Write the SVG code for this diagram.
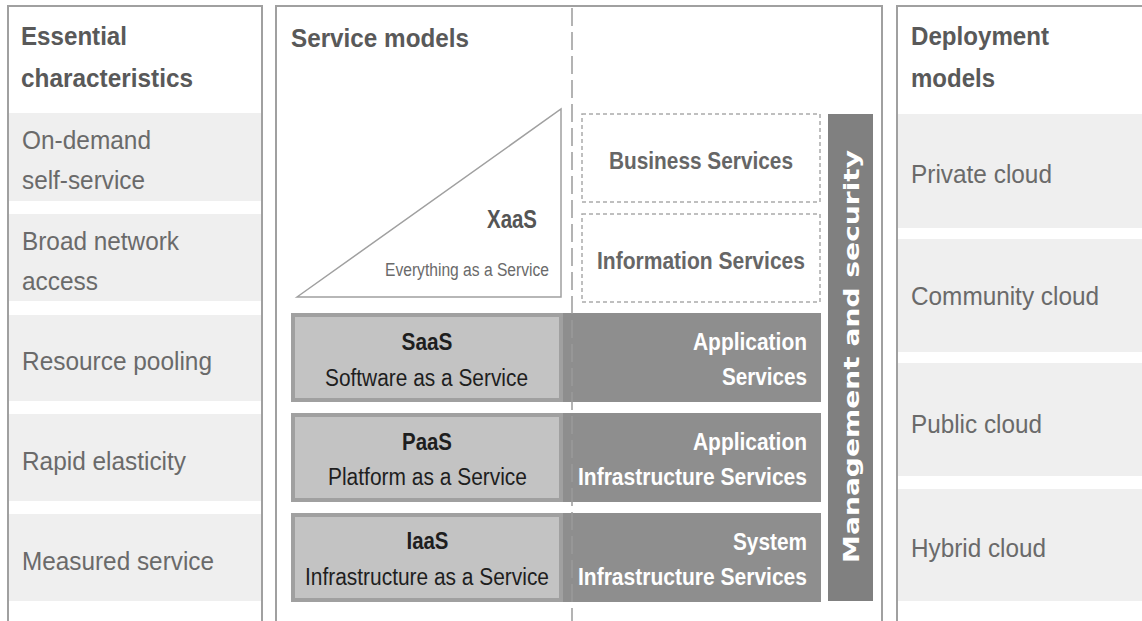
<svg xmlns="http://www.w3.org/2000/svg" width="1142" height="621" viewBox="0 0 1142 621">
<style>
.panel{fill:none;stroke:#a0a0a0;stroke-width:2}
.cell{fill:#efefef}
.head{font-family:"Liberation Sans",Arial,sans-serif;font-weight:bold;font-size:26px;fill:#595959}
.lbl{font-family:"Liberation Sans",Arial,sans-serif;font-size:25px;fill:#6a6a6a}
.dbox{fill:#ffffff;stroke:#aaaaaa;stroke-width:1.5;stroke-dasharray:4 3}
.dtxt{font-family:"Liberation Sans",Arial,sans-serif;font-weight:bold;font-size:23px;fill:#666666;text-anchor:middle}
.lbox{fill:#c3c3c3;stroke:#a0a0a0;stroke-width:4}
.rbox{fill:#8e8e8e}
.mtitle{font-family:"Liberation Sans",Arial,sans-serif;font-weight:bold;font-size:23px;fill:#1e1e1e;text-anchor:middle}
.msub{font-family:"Liberation Sans",Arial,sans-serif;font-size:23px;fill:#1e1e1e;text-anchor:middle}
.wtxt{font-family:"Liberation Sans",Arial,sans-serif;font-weight:bold;font-size:23px;fill:#ffffff;text-anchor:end}
</style>
<rect width="1142" height="621" fill="#ffffff"/>

<g id="essential-characteristics">
  <path class="panel" d="M8,621 V6 H262 V621"/>
  <text class="head" x="21" y="45" textLength="106" lengthAdjust="spacingAndGlyphs">Essential</text>
  <text class="head" x="21" y="87" textLength="172" lengthAdjust="spacingAndGlyphs">characteristics</text>
  <g id="on-demand">
    <rect class="cell" x="9" y="113" width="252" height="88"/>
    <text class="lbl" x="22" y="149" textLength="129" lengthAdjust="spacingAndGlyphs">On-demand</text>
    <text class="lbl" x="22" y="189" textLength="123" lengthAdjust="spacingAndGlyphs">self-service</text>
  </g>
  <g id="broad-network">
    <rect class="cell" x="9" y="214" width="252" height="87"/>
    <text class="lbl" x="22" y="250" textLength="157" lengthAdjust="spacingAndGlyphs">Broad network</text>
    <text class="lbl" x="22" y="290" textLength="76" lengthAdjust="spacingAndGlyphs">access</text>
  </g>
  <g id="resource-pooling">
    <rect class="cell" x="9" y="315" width="252" height="86"/>
    <text class="lbl" x="22" y="370" textLength="190" lengthAdjust="spacingAndGlyphs">Resource pooling</text>
  </g>
  <g id="rapid-elasticity">
    <rect class="cell" x="9" y="414" width="252" height="87"/>
    <text class="lbl" x="22" y="470" textLength="164" lengthAdjust="spacingAndGlyphs">Rapid elasticity</text>
  </g>
  <g id="measured-service">
    <rect class="cell" x="9" y="514" width="252" height="87"/>
    <text class="lbl" x="22" y="570" textLength="192" lengthAdjust="spacingAndGlyphs">Measured service</text>
  </g>
</g>

<g id="service-models">
  <path class="panel" d="M276,621 V6 H882 V621"/>
  <text class="head" x="291" y="47" textLength="178" lengthAdjust="spacingAndGlyphs">Service models</text>
</g>

<g id="xaas">
  <polygon points="297,297 561,109 561,297" fill="#ffffff" stroke="#a0a0a0" stroke-width="1.5"/>
  <text x="537" y="228" font-family="Liberation Sans, Arial, sans-serif" font-weight="bold" font-size="25" fill="#555555" text-anchor="end" textLength="50" lengthAdjust="spacingAndGlyphs">XaaS</text>
  <text x="549" y="276" font-family="Liberation Sans, Arial, sans-serif" font-size="18" fill="#6a6a6a" text-anchor="end" textLength="164" lengthAdjust="spacingAndGlyphs">Everything as a Service</text>
</g>

<g id="business-services">
  <rect class="dbox" x="582" y="114" width="238" height="88"/>
  <text class="dtxt" x="701" y="169" textLength="184" lengthAdjust="spacingAndGlyphs">Business Services</text>
</g>
<g id="information-services">
  <rect class="dbox" x="582" y="214" width="238" height="88"/>
  <text class="dtxt" x="701" y="269" textLength="208" lengthAdjust="spacingAndGlyphs">Information Services</text>
</g>

<g id="saas">
  <rect class="rbox" x="561" y="313" width="260" height="89"/>
  <rect class="lbox" x="293" y="315" width="268" height="85"/>
  <text class="mtitle" x="427" y="350" textLength="51" lengthAdjust="spacingAndGlyphs">SaaS</text>
  <text class="msub" x="426.5" y="386" textLength="203" lengthAdjust="spacingAndGlyphs">Software as a Service</text>
  <text class="wtxt" x="807" y="350" textLength="114" lengthAdjust="spacingAndGlyphs">Application</text>
  <text class="wtxt" x="807" y="385" textLength="85" lengthAdjust="spacingAndGlyphs">Services</text>
</g>
<g id="paas">
  <rect class="rbox" x="561" y="413" width="260" height="89"/>
  <rect class="lbox" x="293" y="415" width="268" height="85"/>
  <text class="mtitle" x="427" y="450" textLength="50" lengthAdjust="spacingAndGlyphs">PaaS</text>
  <text class="msub" x="427.5" y="485" textLength="199" lengthAdjust="spacingAndGlyphs">Platform as a Service</text>
  <text class="wtxt" x="807" y="450" textLength="114" lengthAdjust="spacingAndGlyphs">Application</text>
  <text class="wtxt" x="807" y="485" textLength="229" lengthAdjust="spacingAndGlyphs">Infrastructure Services</text>
</g>
<g id="iaas">
  <rect class="rbox" x="561" y="513" width="260" height="89"/>
  <rect class="lbox" x="293" y="515" width="268" height="85"/>
  <text class="mtitle" x="427.5" y="549" textLength="42" lengthAdjust="spacingAndGlyphs">IaaS</text>
  <text class="msub" x="427" y="585" textLength="244" lengthAdjust="spacingAndGlyphs">Infrastructure as a Service</text>
  <text class="wtxt" x="807" y="550" textLength="74" lengthAdjust="spacingAndGlyphs">System</text>
  <text class="wtxt" x="807" y="585" textLength="229" lengthAdjust="spacingAndGlyphs">Infrastructure Services</text>
</g>

<g id="management-security">
  <rect x="828" y="114" width="45" height="487" fill="#808080"/>
  <text transform="translate(859,563) rotate(-90)" x="0" y="0" font-family="DejaVu Sans, Verdana, sans-serif" font-weight="bold" font-size="22" fill="#ffffff" textLength="413" lengthAdjust="spacingAndGlyphs">Management and security</text>
</g>

<g id="connectors">
  <line x1="572" y1="8" x2="572" y2="621" stroke="#9a9a9a" stroke-width="1.5" stroke-dasharray="18 6"/>
</g>

<g id="deployment-models">
  <path class="panel" d="M897,621 V6 H1142"/>
  <text class="head" x="911" y="45" textLength="138" lengthAdjust="spacingAndGlyphs">Deployment</text>
  <text class="head" x="911" y="87" textLength="84" lengthAdjust="spacingAndGlyphs">models</text>
  <g id="private-cloud">
    <rect class="cell" x="898" y="114" width="244" height="114"/>
    <text class="lbl" x="911" y="183" textLength="141" lengthAdjust="spacingAndGlyphs">Private cloud</text>
  </g>
  <g id="community-cloud">
    <rect class="cell" x="898" y="239" width="244" height="113"/>
    <text class="lbl" x="911" y="305" textLength="188" lengthAdjust="spacingAndGlyphs">Community cloud</text>
  </g>
  <g id="public-cloud">
    <rect class="cell" x="898" y="363" width="244" height="113"/>
    <text class="lbl" x="911" y="433" textLength="131" lengthAdjust="spacingAndGlyphs">Public cloud</text>
  </g>
  <g id="hybrid-cloud">
    <rect class="cell" x="898" y="489" width="244" height="112"/>
    <text class="lbl" x="911" y="557" textLength="135" lengthAdjust="spacingAndGlyphs">Hybrid cloud</text>
  </g>
</g>
</svg>
